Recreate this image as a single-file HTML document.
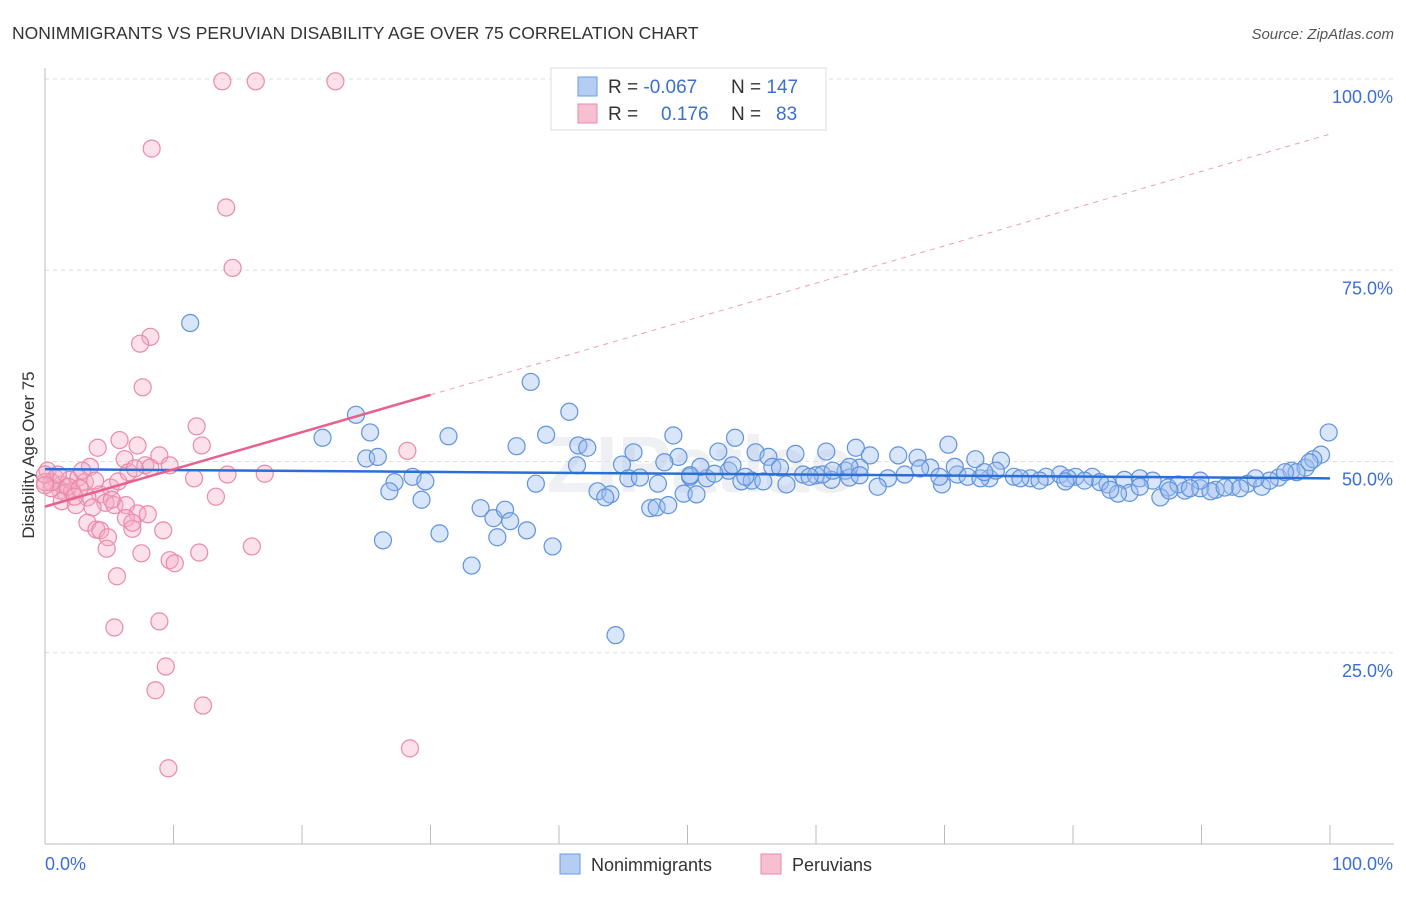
<!DOCTYPE html>
<html><head><meta charset="utf-8"><style>
body{margin:0;background:#fff;font-family:"Liberation Sans",sans-serif;}
svg text{font-family:"Liberation Sans",sans-serif;}
</style></head><body>
<svg id="chart" width="1406" height="892" viewBox="0 0 1406 892" xmlns="http://www.w3.org/2000/svg">
<text x="12" y="39" font-size="17.5" fill="#333">NONIMMIGRANTS VS PERUVIAN DISABILITY AGE OVER 75 CORRELATION CHART</text>
<text x="1394" y="39" font-size="15" fill="#555" font-style="italic" text-anchor="end">Source: ZipAtlas.com</text>
<text x="34" y="455" font-size="17" fill="#333" text-anchor="middle" transform="rotate(-90 34 455)">Disability Age Over 75</text>
<text x="700" y="492" font-size="80" fill="#eef0f4" font-weight="bold" text-anchor="middle">ZIPatlas</text>
<g id="grid"></g><g id="axes"></g><g id="pts"></g><g id="lines"></g>
<g>
<rect x="551" y="68" width="275" height="62" fill="#fff" stroke="#ddd"/>
<rect x="578" y="77" width="19" height="19" fill="#b5cdf3" stroke="#6a9de0"/>
<rect x="578" y="104" width="19" height="19" fill="#f7c0d1" stroke="#e88aaa"/>
<text x="608" y="93" font-size="19" fill="#333">R = <tspan fill="#3b6fd4">-0.067</tspan></text>
<text x="731" y="93" font-size="19" fill="#333">N = <tspan fill="#3b6fd4">147</tspan></text>
<text x="608" y="120" font-size="19" fill="#333">R = </text><text x="661" y="120" font-size="19" fill="#3b6fd4">0.176</text>
<text x="731" y="120" font-size="19" fill="#333">N = </text><text x="776" y="120" font-size="19" fill="#3b6fd4">83</text>
</g>
<g>
<rect x="560" y="854" width="20" height="20" fill="#b5cdf3" stroke="#6a9de0"/>
<text x="591" y="871" font-size="18" fill="#333">Nonimmigrants</text>
<rect x="761" y="854" width="20" height="20" fill="#f7c0d1" stroke="#e88aaa"/>
<text x="792" y="871" font-size="18" fill="#333">Peruvians</text>
</g>
</svg>
<script>
const blueX=[11.3,37.8,24.2,40.8,21.6,25.3,31.4,39.0,48.9,53.7,36.7,41.5,42.2,45.8,63.1,70.3,60.8,99.9,99.3,25.0,25.9,41.4,44.9,49.3,52.4,55.3,56.3,58.4,64.2,66.4,67.9,72.4,74.4,28.6,29.6,27.2,26.8,29.3,38.2,43.0,44.0,45.4,46.3,47.7,50.2,51.5,54.2,55.0,55.9,57.7,59.0,60.0,61.2,62.3,63.4,65.6,66.9,68.9,69.8,71.0,71.8,73.5,75.4,76.7,77.9,79.0,80.2,81.5,82.7,84.0,85.2,86.2,87.4,88.7,89.9,91.1,92.4,93.6,94.7,96.0,97.0,98.1,98.7,97.4,95.3,93.0,90.7,88.2,86.8,84.4,83.5,82.1,80.9,79.6,77.4,75.9,74.0,72.8,70.8,68.1,64.8,62.6,60.5,59.5,56.6,53.2,51.0,48.2,43.6,47.1,47.6,48.5,49.7,50.7,33.9,34.9,35.8,36.2,35.2,37.5,39.5,30.7,26.3,33.2,44.4,53.5,62.6,82.9,94.2,89.9,85.2,69.6,63.4,57.2,54.5,52.1,50.2,61.3,73.1,79.4,87.5,89.1,91.8,96.5,98.4];
const blueY=[68.1,60.4,56.1,56.5,53.1,53.8,53.3,53.5,53.4,53.1,52.0,52.1,51.8,51.2,51.8,52.2,51.3,53.8,50.9,50.4,50.6,49.5,49.6,50.6,51.3,51.2,50.6,51.0,50.8,50.8,50.5,50.3,50.1,48.0,47.4,47.3,46.1,45.0,47.1,46.1,45.7,47.8,47.9,47.1,48.0,47.8,47.4,47.5,47.4,47.0,48.3,48.2,47.6,48.8,49.2,47.8,48.3,49.2,47.0,48.3,48.0,47.8,48.0,47.8,48.0,48.3,48.0,48.0,47.0,47.6,47.8,47.5,46.6,46.2,46.5,46.3,46.7,47.1,46.7,47.9,48.8,49.2,50.3,48.6,47.5,46.5,46.1,47.0,45.3,45.9,45.8,47.3,47.5,47.8,47.5,47.8,48.8,47.8,49.3,49.1,46.7,47.9,48.3,48.0,49.3,48.8,49.3,49.9,45.3,43.9,44.0,44.3,45.8,45.7,43.9,42.6,43.7,42.2,40.1,41.0,38.9,40.6,39.7,36.4,27.3,49.5,49.3,46.3,47.8,47.5,46.7,48.0,48.2,49.2,48.0,48.4,48.2,48.8,48.6,47.4,46.2,46.5,46.6,48.6,49.9];
const pinkX=[13.8,16.4,22.6,8.3,14.1,14.6,8.2,7.4,7.6,11.8,4.1,5.8,7.2,12.2,8.9,6.2,3.5,7.8,9.7,17.1,14.2,11.6,28.2,0.2,0.8,1.3,1.9,2.6,3.1,1.2,1.6,0.5,2.1,4.3,5.1,5.7,6.5,7.0,8.2,3.3,4.7,1.3,2.4,3.7,5.4,6.3,7.2,8.0,6.3,6.8,6.8,3.3,4.0,4.3,4.9,4.8,7.5,9.2,9.7,10.1,12.0,16.1,5.6,13.3,5.4,8.9,9.4,8.6,12.3,28.4,9.6,0.5,1.0,1.8,2.7,0,2.9,2.3,3.9,5.2,0,0];
const pinkY=[99.7,99.7,99.7,90.9,83.2,75.3,66.3,65.4,59.7,54.6,51.8,52.8,52.1,52.1,50.8,50.3,49.3,49.5,49.5,48.4,48.3,47.8,51.4,48.8,47.8,47.0,47.6,47.9,47.3,46.2,45.9,46.5,46.1,45.7,46.6,47.4,48.6,49.1,49.2,45.3,44.6,44.8,44.3,44.0,44.3,44.3,43.2,43.1,42.6,41.2,42.0,42.0,41.1,41.0,40.1,38.6,38.0,41.0,37.1,36.7,38.1,38.9,35.0,45.4,28.3,29.1,23.2,20.1,18.1,12.5,9.9,47.3,48.3,46.7,46.5,47.3,48.8,45.4,47.5,45.0,48.3,46.9];
const yTicks=[25,50,75,100];
const yTickLabels=["25.0%","50.0%","75.0%","100.0%"];
const xTicks=[0,10,20,30,40,50,60,70,80,90,100];
const blueTrend=[49.0,47.8];
const pinkTrend=[44.1,92.8];
const NS="http://www.w3.org/2000/svg";
const X0=45,X1=1330,YB=844,YT=79;
const sx=v=>X0+(X1-X0)*v/100;
const sy=v=>YB-(YB-YT)*v/100;
function mk(tag,attrs,parent){const e=document.createElementNS(NS,tag);for(const k in attrs)e.setAttribute(k,attrs[k]);document.getElementById(parent).appendChild(e);return e;}
yTicks.forEach((t,i)=>{
 const g=mk('line',{x1:X0,x2:1394,y1:sy(t),y2:sy(t),stroke:'#ddd','stroke-dasharray':'4,4'},'grid');
 
 
 const l=mk('text',{x:1393,y:sy(t)+24,'font-size':18,fill:'#3b6fd4','text-anchor':'end'},'grid');
 l.textContent=yTickLabels[i];
 
 
});
const topLine=mk('line',{x1:X0,x2:1394,y1:YT,y2:YT,stroke:'#ddd','stroke-dasharray':'4,4'},'grid');


const ya=mk('line',{x1:X0,x2:X0,y1:68,y2:YB,stroke:'#bbb'},'axes');


const xa=mk('line',{x1:X0,x2:1394,y1:YB,y2:YB,stroke:'#bbb'},'axes');


xTicks.forEach(t=>{const k=mk('line',{x1:sx(t),x2:sx(t),y1:YB,y2:YB-19,stroke:'#bbb'},'axes');
 
 });
const xl0=mk('text',{x:45,y:870,'font-size':18,fill:'#3b6fd4'},'axes');xl0.textContent='0.0%';


const xl1=mk('text',{x:1393,y:870,'font-size':18,fill:'#3b6fd4','text-anchor':'end'},'axes');xl1.textContent='100.0%';


pinkX.forEach((v,i)=>{const c=mk('circle',{cx:sx(v),cy:sy(pinkY[i]),r:8.5,fill:'rgba(245,170,195,0.35)',stroke:'#e88aaa','stroke-width':1.2},'pts');
 
 });
blueX.forEach((v,i)=>{const c=mk('circle',{cx:sx(v),cy:sy(blueY[i]),r:8.5,fill:'rgba(160,190,240,0.4)',stroke:'#5f93dc','stroke-width':1.2},'pts');
 
 });
const bl=mk('line',{x1:sx(0),y1:sy(blueTrend[0]),x2:sx(100),y2:sy(blueTrend[1]),stroke:'#2a6fd6','stroke-width':2.5},'lines');


const pAt=x=>pinkTrend[0]+(pinkTrend[1]-pinkTrend[0])*x/100;
const pl=mk('line',{x1:sx(0),y1:sy(pAt(0)),x2:sx(30),y2:sy(pAt(30)),stroke:'#e8608c','stroke-width':2.5},'lines');


const pd=mk('line',{x1:sx(30),y1:sy(pAt(30)),x2:sx(100),y2:sy(pAt(100)),stroke:'#eba0b8','stroke-width':1,'stroke-dasharray':'5,5'},'lines');


</script>
</body></html>
